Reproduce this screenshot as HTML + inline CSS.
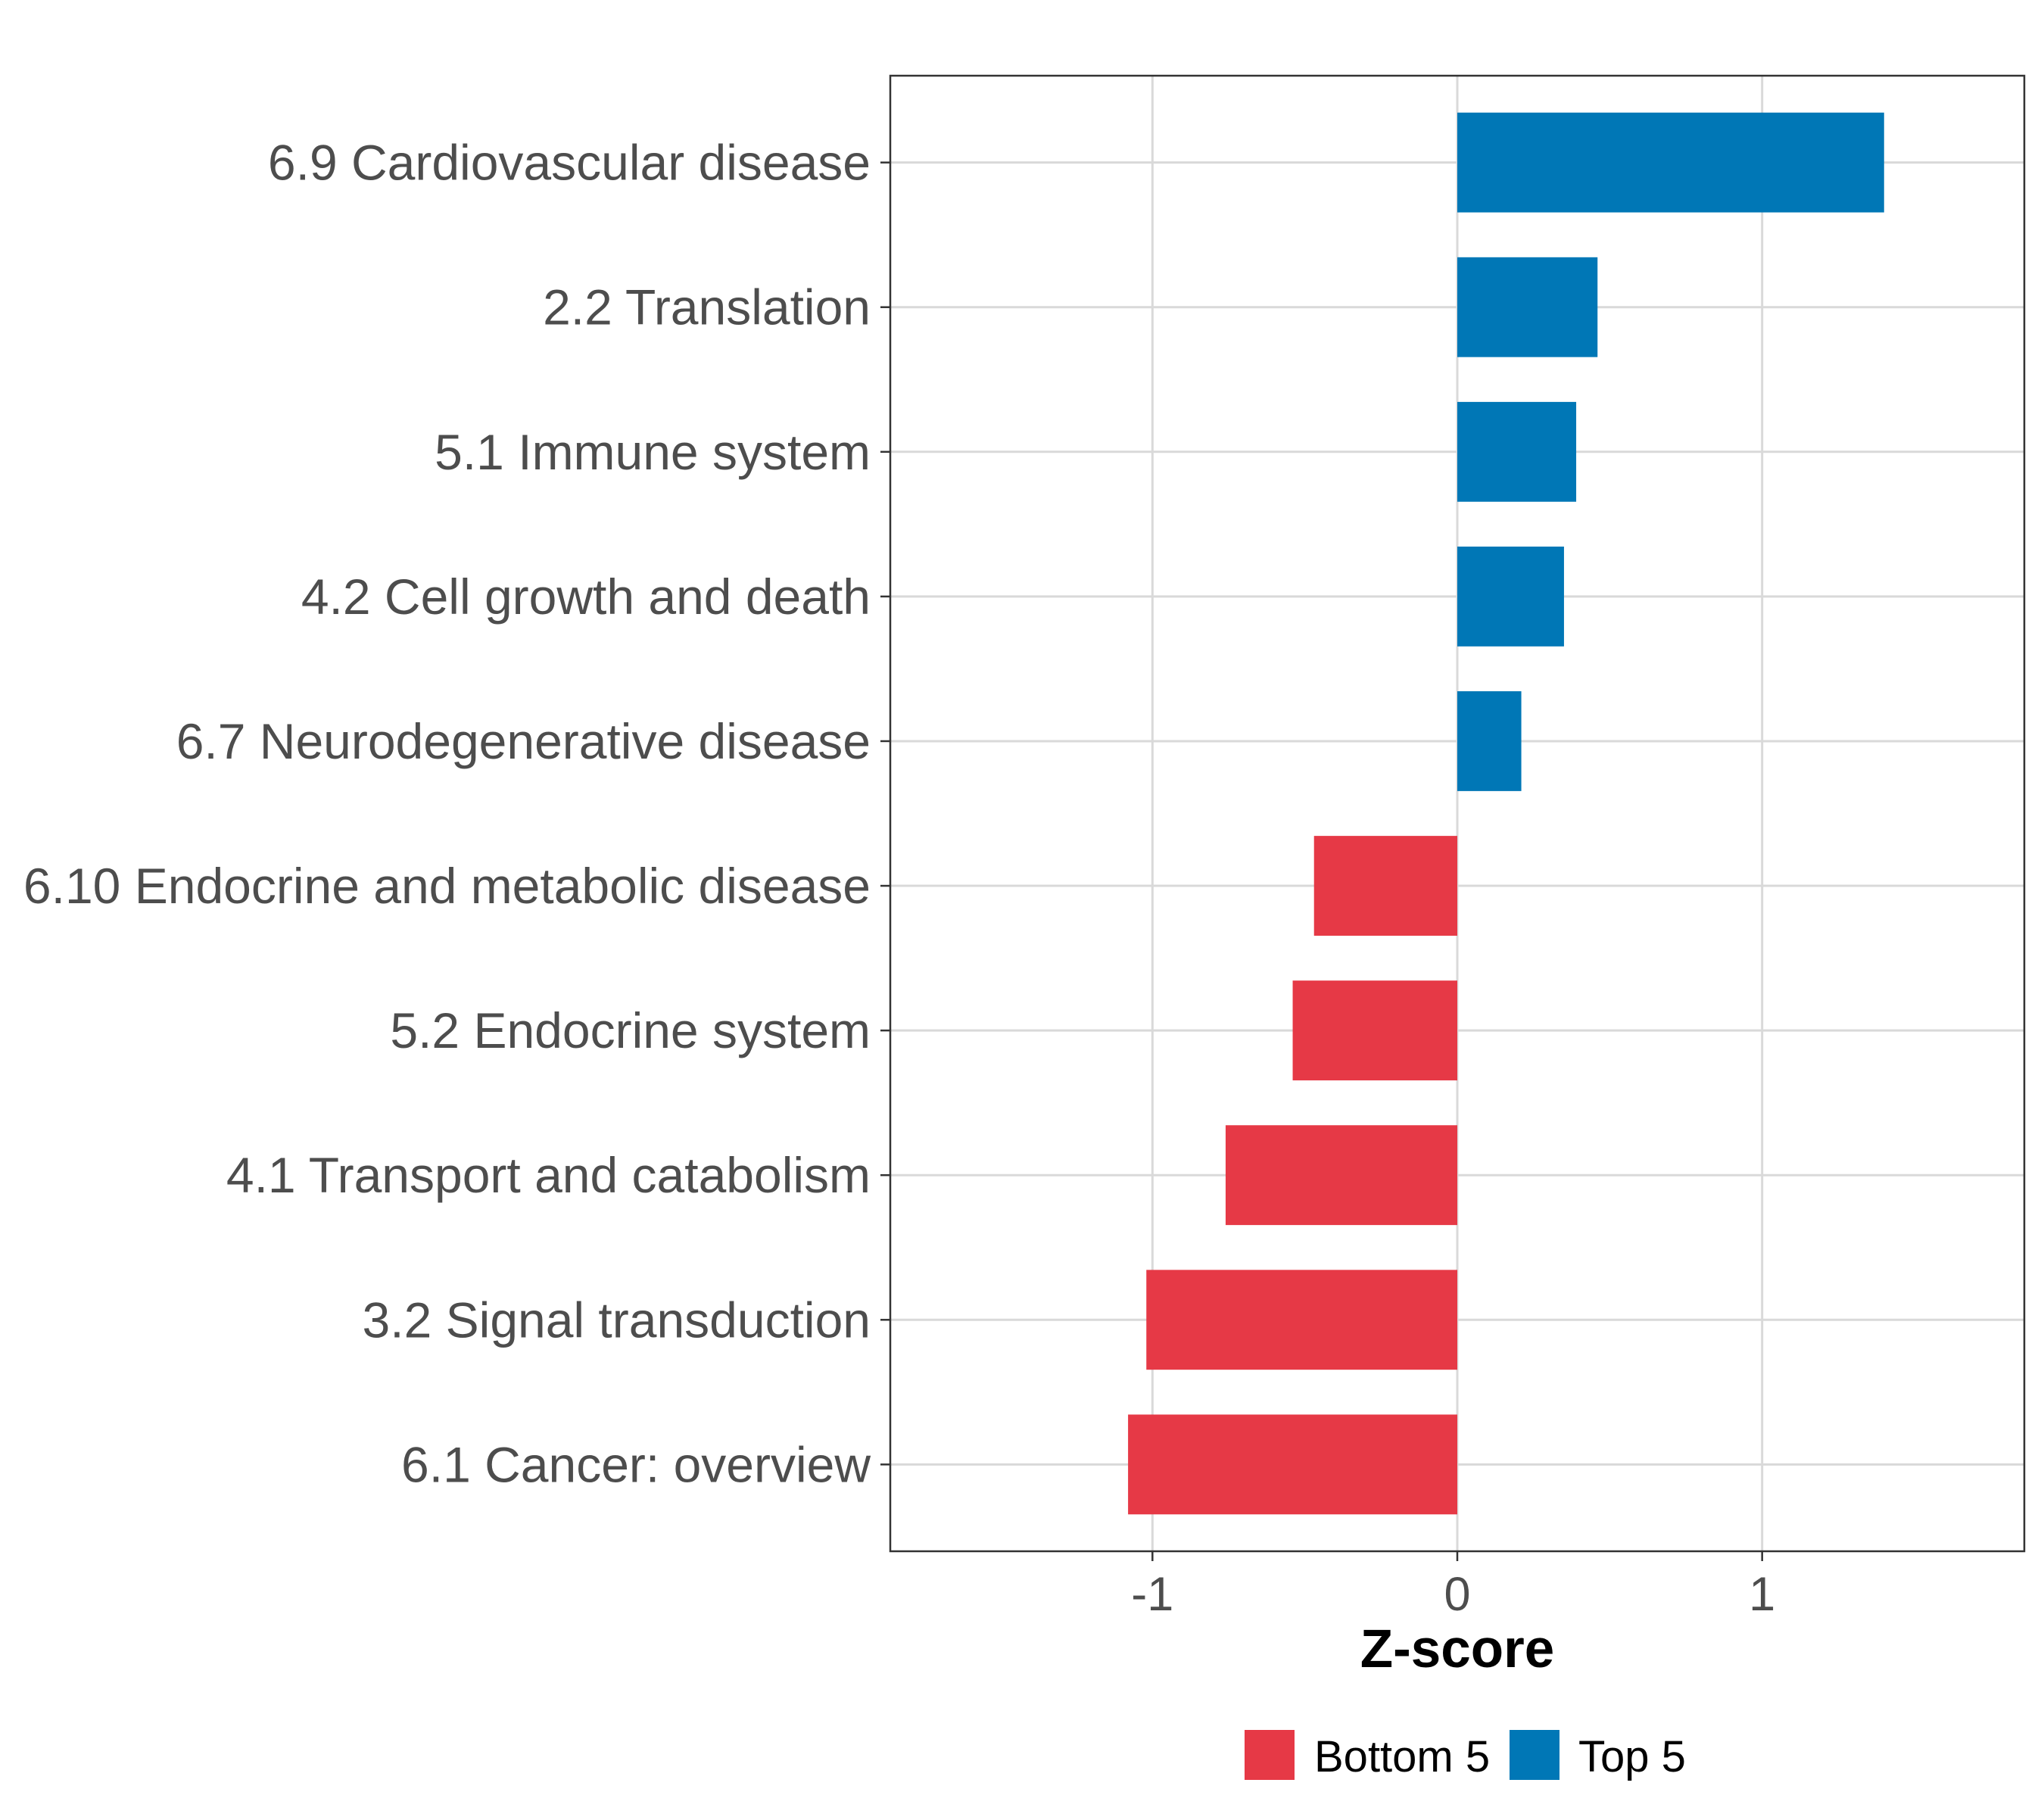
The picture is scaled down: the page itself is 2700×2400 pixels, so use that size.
<!DOCTYPE html>
<html><head><meta charset="utf-8"><style>
html,body{margin:0;padding:0;background:#fff;}
svg{display:block;font-family:"Liberation Sans",Arial,sans-serif;}
</style></head><body>
<svg id="chart" width="2700" height="2400" viewBox="0 0 2700 2400" xmlns="http://www.w3.org/2000/svg">
<g id="grid"></g>
<g id="bars"></g>
<rect x="1176" y="100" width="1498" height="1949" fill="none" stroke="#333" stroke-width="2.5"/>
<g id="yaxis"></g>
<g id="xaxis"></g>
<text x="1925" y="2202" text-anchor="middle" font-size="71" font-weight="bold" fill="#000">Z-score</text>
<g>
<rect x="1644" y="2285" width="66" height="66" fill="#E63946"/>
<text x="1736" y="2340" font-size="58" fill="#000">Bottom 5</text>
<rect x="1994" y="2285" width="66" height="66" fill="#0077B6"/>
<text x="2085" y="2340" font-size="58" fill="#000">Top 5</text>
</g>
</svg>
<script>
const categories = ["6.9 Cardiovascular disease","2.2 Translation","5.1 Immune system","4.2 Cell growth and death","6.7 Neurodegenerative disease","6.10 Endocrine and metabolic disease","5.2 Endocrine system","4.1 Transport and catabolism","3.2 Signal transduction","6.1 Cancer: overview"];
const values = [1.40,0.46,0.39,0.35,0.21,-0.47,-0.54,-0.76,-1.02,-1.08];
const groups = ["Top 5","Top 5","Top 5","Top 5","Top 5","Bottom 5","Bottom 5","Bottom 5","Bottom 5","Bottom 5"];
const xTicks = [-1,0,1];
const xTickLabels = ["-1","0","1"];

const NS="http://www.w3.org/2000/svg";
const L=1176,R=2674,T=100,B=2049;
const xMin=-1.86,xMax=1.86;
function xs(v){return L+(v-xMin)/(xMax-xMin)*(R-L);}
const n=categories.length;
const step=(B-T)/(n-1+1.2);
function ys(i){return T+step*(0.6+i);}
const colors={"Top 5":"#0077B6","Bottom 5":"#E63946"};
function mk(tag,attrs,parent){const e=document.createElementNS(NS,tag);for(const k in attrs)e.setAttribute(k,attrs[k]);parent.appendChild(e);return e;}
const grid=document.getElementById('grid'),bars=document.getElementById('bars'),ya=document.getElementById('yaxis'),xa=document.getElementById('xaxis');
xTicks.forEach((t,i)=>{
  const g=mk('line',{x1:xs(t),x2:xs(t),y1:T,y2:B,stroke:'#d9d9d9','stroke-width':3},grid);
  
  
  const tk=mk('line',{x1:xs(t),x2:xs(t),y1:B,y2:B+13,stroke:'#333','stroke-width':2.5},xa);
  
  
  const tl=mk('text',{x:xs(t),y:2127,'text-anchor':'middle','font-size':63,fill:'#4d4d4d'},xa);
  tl.textContent=xTickLabels[i];
  
  
});
categories.forEach((c,i)=>{
  const y=ys(i);
  const g=mk('line',{x1:L,x2:R,y1:y,y2:y,stroke:'#d9d9d9','stroke-width':3},grid);
  
  
  const v=values[i],h=step*0.69;
  const x0=Math.min(xs(0),xs(v)),w=Math.abs(xs(v)-xs(0));
  const b=mk('rect',{x:x0,y:y-h/2,width:w,height:h,fill:colors[groups[i]]},bars);
  
  
  const tk=mk('line',{x1:L-13,x2:L,y1:y,y2:y,stroke:'#333','stroke-width':2.5},ya);
  
  
  const tl=mk('text',{x:1150,y:y+23,'text-anchor':'end','font-size':66,fill:'#4d4d4d'},ya);
  tl.textContent=c;
  
  
});
</script>
</body></html>
